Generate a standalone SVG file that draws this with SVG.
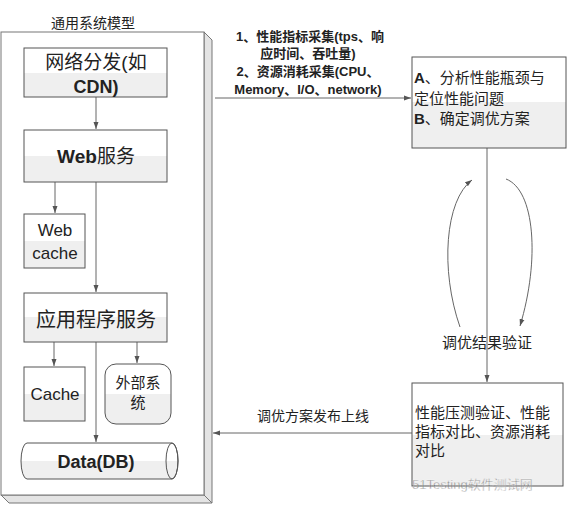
<svg xmlns="http://www.w3.org/2000/svg" width="568" height="507" viewBox="0 0 568 507">
<defs>
<linearGradient id="g" x1="0" y1="0" x2="0" y2="1">
<stop offset="0" stop-color="#ffffff"/><stop offset="0.5" stop-color="#ffffff"/><stop offset="0.5" stop-color="#efefef"/><stop offset="1" stop-color="#efefef"/>
</linearGradient>
<marker id="a" markerWidth="8" markerHeight="8" refX="7" refY="4" orient="auto" markerUnits="userSpaceOnUse">
<path d="M0,1.5 L7,4 L0,6.5 Z" fill="#555"/>
</marker>
</defs>
<style>
.t{font-family:"Liberation Sans","Noto Sans CJK SC",sans-serif;fill:#222;}
.c{font-family:"Noto Sans CJK SC",sans-serif;fill:#222;}
.b{stroke:#555;stroke-width:1;fill:url(#g);}
.l{stroke:#666;stroke-width:1;fill:none;marker-end:url(#a);}
</style>
<rect width="568" height="507" fill="#fff"/>
<g id="outer">
<polygon points="204,32 212,40 212,503 204,495" fill="#e4e4e4" stroke="#777"/>
<polygon points="1,495 204,495 212,503 9,503" fill="#e4e4e4" stroke="#777"/>
<rect x="1" y="32" width="203" height="463" fill="#fff" stroke="#777"/>
<text class="c" x="93" y="28" font-size="14" text-anchor="middle">通用系统模型</text>
</g>
<g id="connectors">
<line class="l" x1="96" y1="97" x2="96" y2="129"/>
<line class="l" x1="55" y1="182" x2="55" y2="213"/>
<line class="l" x1="96" y1="182" x2="96" y2="292"/>
<line class="l" x1="54" y1="342" x2="54" y2="366"/>
<line class="l" x1="96" y1="342" x2="96" y2="442"/>
<line class="l" x1="137" y1="342" x2="137" y2="363"/>
<line class="l" x1="215" y1="98" x2="411" y2="98"/>
<line class="l" x1="487" y1="148" x2="487" y2="382"/>
<line class="l" x1="412" y1="433" x2="213" y2="433"/>
<path class="l" d="M460,327 C440,270 445,200 472,180"/>
<path class="l" d="M506,179 C535,190 540,260 520,326"/>
<text class="c" x="487" y="348" font-size="15" text-anchor="middle">调优结果验证</text>
<text class="c" x="313" y="421" font-size="14" text-anchor="middle">调优方案发布上线</text>
<g class="t" font-size="13" font-weight="bold" text-anchor="middle">
<text x="310" y="41">1、性能指标采集(tps、响</text>
<text x="308" y="58">应时间、吞吐量)</text>
<text x="308" y="76">2、资源消耗采集(CPU、</text>
<text x="308" y="94">Memory、I/O、network)</text>
</g>
</g>
<g id="cdn">
<rect class="b" x="24" y="48" width="143" height="49"/>
<text class="t" x="96" y="69" font-size="19" text-anchor="middle">网络分发(如</text>
<text class="t" x="96" y="93" font-size="18" font-weight="bold" text-anchor="middle">CDN)</text>
</g>
<g id="web">
<rect class="b" x="24" y="130" width="143" height="52"/>
<text class="t" x="96" y="163" font-size="19" text-anchor="middle"><tspan font-weight="bold">Web</tspan>服务</text>
</g>
<g id="webcache">
<rect class="b" x="24" y="214" width="61" height="54"/>
<text class="t" x="55" y="236" font-size="17" text-anchor="middle">Web</text>
<text class="t" x="55" y="259" font-size="17" text-anchor="middle">cache</text>
</g>
<g id="app">
<rect class="b" x="24" y="293" width="143" height="49"/>
<text class="t" x="96" y="327" font-size="20" text-anchor="middle">应用程序服务</text>
</g>
<g id="cache">
<rect class="b" x="24" y="367" width="61" height="54"/>
<text class="t" x="55" y="400" font-size="17" text-anchor="middle">Cache</text>
</g>
<g id="ext">
<rect class="b" x="105" y="364" width="66" height="60" rx="11"/>
<text class="c" x="138" y="388" font-size="15" text-anchor="middle">外部系</text>
<text class="c" x="138" y="408" font-size="15" text-anchor="middle">统</text>
</g>
<g id="db">
<path class="b" d="M27,443 L172,443 A6,18 0 0 1 172,479 L27,479 A6,18 0 0 1 27,443 Z"/>
<ellipse cx="172" cy="461" rx="6" ry="18" fill="none" stroke="#555"/>
<text class="t" x="96" y="468" font-size="18" font-weight="bold" text-anchor="middle">Data(DB)</text>
</g>
<g id="analyze">
<rect class="b" x="412" y="57" width="154" height="91"/>
<text class="t" x="414" y="83" font-size="15"><tspan font-weight="bold">A</tspan>、分析性能瓶颈与</text>
<text class="t" x="414" y="104" font-size="15">定位性能问题</text>
<text class="t" x="414" y="124" font-size="15"><tspan font-weight="bold">B</tspan>、确定调优方案</text>
</g>
<g id="verify">
<rect class="b" x="412" y="383" width="151" height="103"/>
<text class="c" x="415" y="418" font-size="15">性能压测验证、性能</text>
<text class="c" x="415" y="437" font-size="15">指标对比、资源消耗</text>
<text class="c" x="415" y="456" font-size="15">对比</text>
</g>
<g id="watermark" opacity="0.55">
<text class="t" x="412" y="489" font-size="13" fill="#999" stroke="#fff" stroke-width="0.4">51Testing软件测试网</text>
</g>
</svg>
